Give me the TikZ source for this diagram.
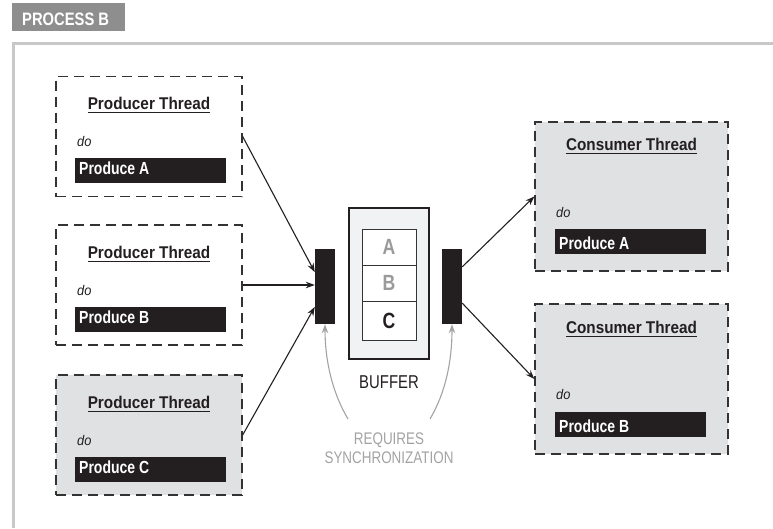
\documentclass[tikz,border=0pt]{standalone}
\usepackage{fontspec}
\usetikzlibrary{arrows.meta,calc}
\newfontfamily\ttlf{Liberation Sans}[FakeStretch=0.9]
\newfontfamily\tabf{Liberation Sans}[FakeStretch=0.82]
\newfontfamily\barf{Liberation Sans}[FakeStretch=0.8]
\newfontfamily\regf{Liberation Sans}[FakeStretch=0.8]
\newfontfamily\dof{Liberation Sans}[FakeStretch=0.92]
\definecolor{boxgray}{HTML}{E0E1E3}
\definecolor{barblack}{HTML}{231F20}
\definecolor{framegray}{HTML}{C8C8C8}
\definecolor{tabgray}{HTML}{8E8E8E}
\definecolor{arrowgray}{HTML}{A3A3A3}
\definecolor{bufferfill}{HTML}{F1F2F3}
\definecolor{lettergray}{HTML}{9A9A9A}
\definecolor{boxline}{HTML}{333333}
\tikzset{
  pbox/.style={draw=boxline, dash pattern=on 10pt off 6pt, line width=1.3pt,
    minimum width=186pt, minimum height=120pt, inner sep=0pt},
  cbox/.style={pbox, fill=boxgray, minimum width=193pt},
  barbox/.style={fill=barblack, draw=none, inner sep=0pt, minimum width=151pt, minimum height=25pt},
  titletext/.style={inner sep=0pt, anchor=base, font=\ttlf\bfseries\fontsize{17}{17}\selectfont, text=barblack},
  dotext/.style={inner sep=0pt, anchor=base west, font=\dof\itshape\fontsize{14}{14}\selectfont, text=barblack},
  bartext/.style={inner sep=0pt, anchor=base west, font=\barf\bfseries\fontsize{17.5}{17.5}\selectfont, text=white},
  ulinestyle/.style={line width=1pt, draw=barblack},
  syncbar/.style={fill=barblack, draw=none, inner sep=0pt, minimum width=20pt, minimum height=75pt},
  cell/.style={draw=boxline, fill=white, line width=1pt, minimum width=54pt, inner sep=0pt,
    font=\barf\bfseries\fontsize{22}{22}\selectfont},
  blackarrow/.style={draw=barblack, line width=1.1pt, -{Stealth[length=9pt,width=6.5pt]}},
  grayarrow/.style={draw=arrowgray, line width=1.1pt, -{Stealth[length=9pt,width=6.5pt]}},
  graytext/.style={inner sep=0pt, anchor=base, text=arrowgray, font=\regf\fontsize{16.8}{16.8}\selectfont},
}
\begin{document}
\begin{tikzpicture}[x=1pt,y=-1pt]
\useasboundingbox (0,0) rectangle (773,528);
% frame and tab
\draw[framegray, line width=3pt] (13.5,528) -- (13.5,43.5) -- (773,43.5);
\node[fill=tabgray, minimum width=113pt, minimum height=28pt, inner sep=0pt] (tab) at (68.5,17) {};
\node[inner sep=0pt, anchor=base west, text=white, font=\tabf\bfseries\fontsize{18}{18}\selectfont] (tabt) at (22,25) {PROCESS B};

% producer boxes
\node[pbox] (p1) at (149,136.5) {};
\node[pbox] (p2) at (149,285) {};
\node[pbox, fill=boxgray] (p3) at (149,435) {};

\node[titletext] (pt1) at (149,109) {Producer Thread};
\draw[ulinestyle] ([yshift=-3pt]pt1.base west) -- ([yshift=-3pt]pt1.base east);
\node[dotext] (pd1) at (77,146) {do};
\node[barbox] (pb1) at (150.5,170.5) {};
\node[bartext] (pbt1) at (79,174) {Produce A};

\node[titletext] (pt2) at (149,258) {Producer Thread};
\draw[ulinestyle] ([yshift=-3pt]pt2.base west) -- ([yshift=-3pt]pt2.base east);
\node[dotext] (pd2) at (77,295) {do};
\node[barbox] (pb2) at (150.5,319.5) {};
\node[bartext] (pbt2) at (79,323) {Produce B};

\node[titletext] (pt3) at (149,408) {Producer Thread};
\draw[ulinestyle] ([yshift=-3pt]pt3.base west) -- ([yshift=-3pt]pt3.base east);
\node[dotext] (pd3) at (77,445) {do};
\node[barbox] (pb3) at (150.5,469.5) {};
\node[bartext] (pbt3) at (79,473) {Produce C};

% consumer boxes
\node[cbox, minimum height=149pt] (c1) at (631.5,196.5) {};
\node[cbox, minimum height=150pt] (c2) at (631.5,379) {};

\node[titletext] (ct1) at (631.5,150.5) {Consumer Thread};
\draw[ulinestyle] ([yshift=-3pt]ct1.base west) -- ([yshift=-3pt]ct1.base east);
\node[dotext] (cd1) at (556,217) {do};
\node[barbox] (cb1) at (630.5,241.5) {};
\node[bartext] (cbt1) at (559,249) {Produce A};

\node[titletext] (ct2) at (631.5,333) {Consumer Thread};
\draw[ulinestyle] ([yshift=-3pt]ct2.base west) -- ([yshift=-3pt]ct2.base east);
\node[dotext] (cd2) at (556,399) {do};
\node[barbox] (cb2) at (630.5,424.5) {};
\node[bartext] (cbt2) at (559,432) {Produce B};

% buffer
\node[draw=barblack, fill=bufferfill, line width=1.2pt, minimum width=80pt, minimum height=151pt, inner sep=0pt] (buf) at (389,283.5) {};
\node[cell, minimum height=36pt, text=lettergray] (ca) at (389,247) {A};
\node[cell, minimum height=36pt, text=lettergray] (cbb) at (389,283) {B};
\node[cell, minimum height=39pt, text=barblack] (cc) at (389,320.5) {C};
\node[inner sep=0pt, anchor=base, text=barblack, font=\regf\fontsize{18.6}{18.6}\selectfont] (buft) at (389,388) {BUFFER};

% sync bars
\node[syncbar] (lb) at (325,286.5) {};
\node[syncbar] (rb) at (452,286.5) {};

% arrows
\draw[blackarrow] (p1.east) -- ($(lb.north west)!0.31!(lb.south west)$);
\draw[blackarrow] (p2.east) -- (lb.west |- p2.east);
\draw[blackarrow] (p3.east) -- ($(lb.north west)!0.77!(lb.south west)$);
\draw[blackarrow] ($(rb.north east)!0.24!(rb.south east)$) -- (c1.west);
\draw[blackarrow] ($(rb.north east)!0.72!(rb.south east)$) -- (c2.west);

% sync label
\node[graytext] (req) at (389,444) {REQUIRES};
\node[graytext] (syn) at (389,463) {SYNCHRONIZATION};
\coordinate (sl) at (348,419);
\coordinate (sr) at (430,419);
\draw[grayarrow] (sl) .. controls (332,392) and (325,360) .. (lb.south);
\draw[grayarrow] (sr) .. controls (446,392) and (452,360) .. (rb.south);
\end{tikzpicture}
\end{document}
